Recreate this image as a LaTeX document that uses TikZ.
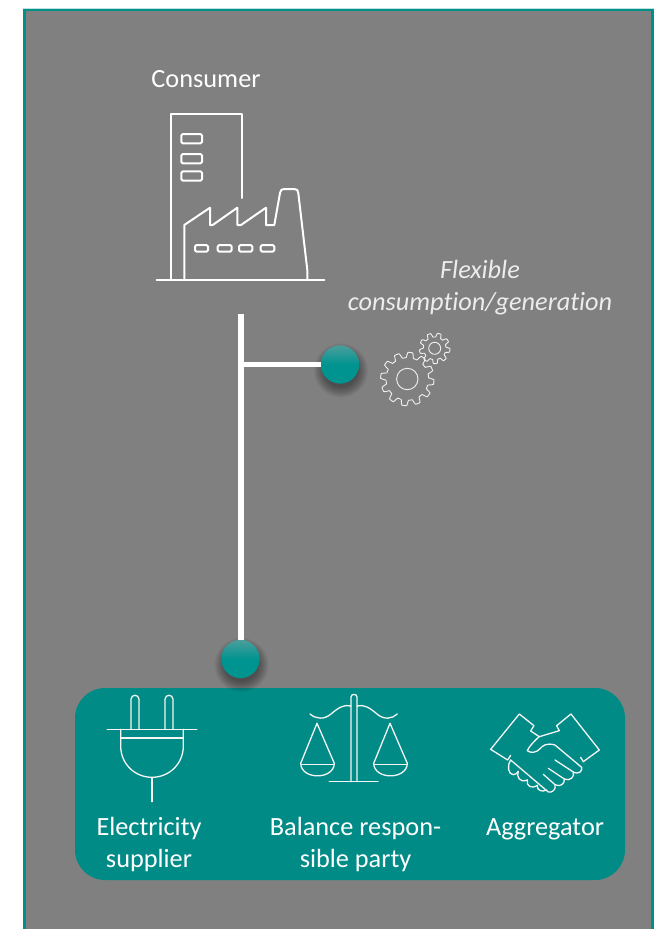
\documentclass[tikz,border=0pt]{standalone}
\usepackage{fontspec}
\setmainfont[Ligatures=NoCommon]{Carlito}
\definecolor{teal1}{HTML}{008B87}
\definecolor{tealframe}{HTML}{00908A}
\definecolor{tealtop}{HTML}{4A9E9C}
\definecolor{tealmid}{HTML}{009490}
\definecolor{bggrey}{HTML}{808080}
\tikzset{
  x=1pt,y=-1pt,
  icon/.style={draw=white,line width=2pt,line join=round,line cap=round},
  iconthin/.style={draw=white!92!gray,line width=1.3pt,line join=round,line cap=round},
  gearline/.style={draw=white!88!gray,line width=.9pt,line join=round},
  wire/.style={draw=white,line width=6pt},
  dot/.style={circle,minimum size=38pt,inner sep=0pt,top color=tealtop,bottom color=tealmid,middle color=tealmid},
  label/.style={text=white,font=\fontsize{26.3}{32}\selectfont,align=center,inner sep=0pt},
  note/.style={text=white!85!gray,font=\fontsize{26.3}{32}\selectfont\itshape,align=center,inner sep=0pt},
  win/.style={icon,rounded corners=1.5pt},
}
\newcommand{\softshadow}[2]{%
  \foreach \r in {17,18,...,27}{\fill[black,opacity=.04] (#1+1,#2+6) circle[radius=\r];}%
}
\begin{document}
\begin{tikzpicture}
\useasboundingbox (0,0) rectangle (660,929);
\fill[white] (0,0) rectangle (660,929);
% panel
\fill[bggrey] (24.5,9.5) rectangle (652.5,929);
\draw[tealframe,line width=3pt] (24.5,929) -- (24.5,9.5) -- (652.5,9.5) -- (652.5,929);
\draw[white!75!tealframe,line width=.6pt] (23,8) -- (654,8);
% group box
\fill[teal1,rounded corners=30pt] (75,688) rectangle (625,880);
% consumer icon
\node[label] (consumer) at (206,79) {Consumer};
\draw[icon] (171,280) -- (171,114) -- (241.7,114) -- (241.7,198);
\foreach \y in {134,154,171.3}{\draw[win] (181.3,\y) rectangle (202,\y+9.4);}
\draw[icon] (184.3,280) -- (184.3,225) -- (210,207.7) -- (210,225) -- (212.7,225) -- (237.3,207.7) -- (237.3,225) -- (241,225) -- (266,207.7) -- (266,225) -- (274.3,225) -- (280,193) .. controls (280.7,190) and (281.5,189) .. (284,189) -- (294,189) .. controls (297,189) and (298,190) .. (298.3,193) -- (307.3,270) -- (307.3,280);
\draw[icon] (156.7,280) -- (324.3,280);
\foreach \a/\b in {195/208,217.7/231.7,239/252.3,260.7/274.3}{\draw[win] (\a,245) rectangle (\b,251.7);}
% connectors
\coordinate (top) at (240.5,314);
\coordinate (branch) at (240.5,364.5);
\softshadow{340}{364.5}
\softshadow{240.5}{659}
\node[dot] (flex) at (340,364.5) {};
\node[dot] (grid) at (240.5,659) {};
\draw[wire] (top) -- (grid.north);
\draw[wire,line width=5.5pt] (branch) -- (flex.west);
\node[dot] at (flex) {};
\node[dot] at (grid) {};
% gears
\draw[gearline] plot[domain=0:360,samples=241,smooth] ({407.3+(24+2.7*max(-1,min(1,2.2*sin(12*\x+10))))*cos(\x)},{379+(24+2.7*max(-1,min(1,2.2*sin(12*\x+10))))*sin(\x)}) -- cycle;
\draw[gearline] (407.3,379) circle[radius=10.7];
\draw[gearline] plot[domain=0:360,samples=181,smooth] ({434.7+(13.3+2*max(-1,min(1,2.2*sin(9*\x+20))))*cos(\x)},{348.3+(13.3+2*max(-1,min(1,2.2*sin(9*\x+20))))*sin(\x)}) -- cycle;
\draw[gearline] (434.7,348.3) circle[radius=6];
\node[note] (flexlabel) at (480,287.5) {Flexible\\consumption/generation};
% plug
\draw[iconthin] (131,729.3) -- (131,699.3) .. controls (131,694) and (139,694) .. (139,699.3) -- (139,729.3);
\draw[iconthin] (165,729.3) -- (165,699.3) .. controls (165,694) and (173,694) .. (173,699.3) -- (173,729.3);
\draw[iconthin] (107.3,729.3) -- (196.7,729.3);
\draw[iconthin] (120.7,738) -- (183.3,738);
\draw[iconthin] (120.7,729.3) -- (120.7,746) .. controls (120.7,764) and (135,777.3) .. (152,777.3) .. controls (169,777.3) and (183.3,764) .. (183.3,746) -- (183.3,729.3);
\draw[iconthin] (152,777.3) -- (152,801.7);
% scales
\draw[iconthin] (351,781.7) -- (351,697) .. controls (351,693.5) and (357,693.5) .. (357,697) -- (357,781.7);
\draw[iconthin] (329.3,781.7) -- (378,781.7);
\draw[iconthin] (310,714) .. controls (316,719) and (324,720) .. (331,714) .. controls (338,708) and (344,704) .. (351,706);
\draw[iconthin] (357,706) .. controls (364,704) and (370,708) .. (377,714) .. controls (384,720) and (392,719) .. (397.3,714);
\draw[iconthin] (300.7,763.3) -- (317,723.3) -- (334.3,763.3) .. controls (334,780) and (301,780) .. (300.7,763.3) -- cycle;
\draw[iconthin] (301.5,764.3) -- (333.5,764.3);
\draw[iconthin] (373.7,763.3) -- (390,723.3) -- (407.3,763.3) .. controls (407,780) and (374,780) .. (373.7,763.3) -- cycle;
\draw[iconthin] (374.5,764.3) -- (406.5,764.3);
% handshake
\begin{scope}[shift={(280,680)},x=0.3333pt,y=-0.3333pt]
\draw[iconthin] (692,226) -- (683,240) -- (632,208) -- (718,102) -- (762,137) -- (752,153) -- (778,170);
\draw[iconthin] (902,232) -- (910,245) -- (958,210) -- (873,102) -- (830,137) -- (838,152) -- (778,170) .. controls (765,180) and (745,203) .. (742,212) .. controls (750,220) and (770,218) .. (778,208) .. controls (790,195) and (800,188) .. (825,195) -- (905,262);
\draw[iconthin] (905,262) .. controls (908,272) and (898,285) .. (880,276) -- (825,240);
\draw[iconthin] (880,276) .. controls (885,290) and (870,305) .. (853,297) -- (805,265);
\draw[iconthin] (853,297) .. controls (855,312) and (840,322) .. (825,314) -- (790,283);
\draw[iconthin] (825,314) .. controls (830,328) and (815,340) .. (805,336) -- (692,240);
\draw[iconthin] (692,240) .. controls (680,255) and (685,285) .. (700,284) .. controls (706,284) and (712,280) .. (715,274);
\draw[iconthin] (715,274) .. controls (708,290) and (720,310) .. (742,300);
\draw[iconthin] (742,300) .. controls (738,318) and (755,328) .. (772,316);
\draw[iconthin] (772,316) .. controls (770,330) and (785,338) .. (800,330);
\end{scope}
% labels
\node[label] (supplier) at (149,844.5) {Electricity\\supplier};
\node[label] (brp) at (355.5,844.5) {Balance respon-\\sible party};
\node[label] (aggregator) at (545,829.5) {Aggregator};
\end{tikzpicture}
\end{document}
